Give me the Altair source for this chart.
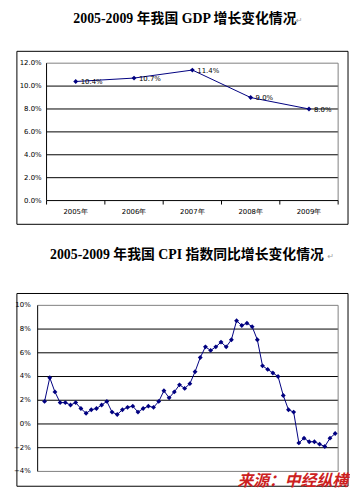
import altair as alt
import pandas as pd

# ---------------- data ----------------
years = ["2005年", "2006年", "2007年", "2008年", "2009年"]
gdp = [10.4, 10.7, 11.4, 9.0, 8.0]
gdp_labels = ["10.4%", "10.7%", "11.4%", "9.0%", "8.0%"]
gdp_ticks = [0, 2, 4, 6, 8, 10, 12]

months = [f"{y}-{m:02d}" for y in range(2005, 2010) for m in range(1, 13)][:57]
cpi = [
    1.9, 3.9, 2.7, 1.8, 1.8, 1.6, 1.8, 1.3, 0.9, 1.2, 1.3, 1.6,
    1.9, 1.0, 0.8, 1.2, 1.4, 1.5, 1.0, 1.3, 1.5, 1.4, 1.9, 2.8,
    2.2, 2.7, 3.3, 3.0, 3.4, 4.4, 5.6, 6.5, 6.2, 6.5, 6.9, 6.5,
    7.1, 8.7, 8.3, 8.5, 8.2, 7.1, 4.9, 4.6, 4.3, 4.0, 2.4, 1.2,
    1.0, -1.6, -1.2, -1.5, -1.5, -1.7, -1.9, -1.2, -0.8,
]
cpi_ticks = [-4, -2, 0, 2, 4, 6, 8, 10]

title1 = "2005-2009 年我国 GDP 增长变化情况"
title2 = "2005-2009 年我国 CPI 指数同比增长变化情况"
para_mark = "↵"
source = "来源：中经纵横"

# ---------------- style ----------------
NAVY = "#000080"
GRAY = "#808080"
LBL_FONT = "DejaVu Sans"
TITLE_FONT = "Liberation Serif, Noto Sans CJK SC"

W, H = 346, 484

# top panel geometry (view coords)
T_L, T_R, T_TOP, T_BOT = 39, 334, 53, 192
# bottom panel geometry
B_L, B_R, B_TOP, B_BOT = 30, 334, 298, 466

gx = alt.Scale(domain=years, range=[T_L, T_R], padding=0.5)
gy = alt.Scale(domain=[0, 12], range=[T_BOT, T_TOP])
cx = alt.Scale(domain=months, range=[37, 331], padding=0)
cy = alt.Scale(domain=[-4, 10], range=[B_BOT, B_TOP])

gdp_df = pd.DataFrame({"year": years, "gdp": gdp, "label": gdp_labels})
gtick_df = pd.DataFrame({"v": gdp_ticks})
cpi_df = pd.DataFrame({"month": months, "cpi": cpi})
ctick_df = pd.DataFrame({"v": cpi_ticks})
bound_df = pd.DataFrame({"b": list(range(len(years) + 1))})

layers = []

# ---- titles ----
for txt, cx_, cy_, end_x in [(title1, 179, 8, 291), (title2, 181, 247, 323)]:
    layers.append(
        alt.Chart(pd.DataFrame({"t": [txt]})).mark_text(
            font=TITLE_FONT, fontSize=14, fontWeight="bold", align="center",
            baseline="middle", color="#000000"
        ).encode(text="t:N", x=alt.value(cx_), y=alt.value(cy_))
    )
    layers.append(
        alt.Chart(pd.DataFrame({"t": [para_mark]})).mark_text(
            font="DejaVu Sans", fontSize=8, align="left", baseline="middle", color="#a0a0a0"
        ).encode(text="t:N", x=alt.value(end_x), y=alt.value(cy_ + 2))
    )

# ---- outer frames ----
for y0, y1 in [(41, 216), (286, 481)]:
    layers.append(
        alt.Chart(pd.DataFrame({"a": [0]})).mark_rect(
            fill="transparent", stroke="#000000", strokeWidth=1
        ).encode(x=alt.value(9), x2=alt.value(344), y=alt.value(y0), y2=alt.value(y1))
    )

# ================= top panel (GDP) =================
layers.append(
    alt.Chart(gtick_df).transform_filter("datum.v > 0 && datum.v < 12").mark_rule(
        color="#000000", strokeWidth=1
    ).encode(y=alt.Y("v:Q", scale=gy, axis=None), x=alt.value(T_L), x2=alt.value(T_R))
)
layers.append(
    alt.Chart(gtick_df).transform_filter("datum.v == 12").mark_rule(
        color=GRAY, strokeWidth=1
    ).encode(y=alt.Y("v:Q", scale=gy, axis=None), x=alt.value(T_L), x2=alt.value(T_R))
)
layers.append(
    alt.Chart(pd.DataFrame({"a": [0]})).mark_rule(color=GRAY, strokeWidth=1).encode(
        x=alt.value(T_R), y=alt.value(T_TOP), y2=alt.value(T_BOT)
    )
)
layers.append(
    alt.Chart(pd.DataFrame({"a": [0]})).mark_rule(color="#000000", strokeWidth=1).encode(
        x=alt.value(T_L), y=alt.value(T_TOP), y2=alt.value(T_BOT)
    )
)
layers.append(
    alt.Chart(gtick_df).transform_filter("datum.v == 0").mark_rule(
        color="#000000", strokeWidth=1
    ).encode(y=alt.Y("v:Q", scale=gy, axis=None), x=alt.value(T_L), x2=alt.value(T_R))
)
layers.append(
    alt.Chart(bound_df).mark_rule(color="#000000", strokeWidth=1).encode(
        x=alt.X("b:Q", scale=alt.Scale(domain=[0, len(years)], range=[T_L, T_R]), axis=None),
        y=alt.value(T_BOT), y2=alt.value(T_BOT + 4)
    )
)
layers.append(
    alt.Chart(gtick_df).transform_calculate(
        lab="format(datum.v, '.1f') + '%'"
    ).mark_text(font=LBL_FONT, fontSize=7, align="right", baseline="middle", color="#000000").encode(
        y=alt.Y("v:Q", scale=gy, axis=None), x=alt.value(T_L - 5), text="lab:N"
    )
)
layers.append(
    alt.Chart(gdp_df).mark_text(font=LBL_FONT, fontSize=7, align="center", baseline="middle",
                                color="#000000").encode(
        x=alt.X("year:N", scale=gx, axis=None, sort=years), y=alt.value(T_BOT + 12), text="year:N"
    )
)
layers.append(
    alt.Chart(gdp_df).mark_line(color=NAVY, strokeWidth=1).encode(
        x=alt.X("year:N", scale=gx, axis=None, sort=years), y=alt.Y("gdp:Q", scale=gy, axis=None)
    )
)
layers.append(
    alt.Chart(gdp_df).mark_point(shape="diamond", filled=True, size=24, color=NAVY, opacity=1).encode(
        x=alt.X("year:N", scale=gx, axis=None, sort=years), y=alt.Y("gdp:Q", scale=gy, axis=None)
    )
)
layers.append(
    alt.Chart(gdp_df).mark_text(font=LBL_FONT, fontSize=7, align="left", baseline="middle",
                                dx=5, dy=1, color="#000000").encode(
        x=alt.X("year:N", scale=gx, axis=None, sort=years), y=alt.Y("gdp:Q", scale=gy, axis=None),
        text="label:N"
    )
)

# ================= bottom panel (CPI) =================
layers.append(
    alt.Chart(ctick_df).transform_filter("datum.v > -4 && datum.v < 10").mark_rule(
        color="#000000", strokeWidth=1
    ).encode(y=alt.Y("v:Q", scale=cy, axis=None), x=alt.value(B_L), x2=alt.value(B_R))
)
layers.append(
    alt.Chart(ctick_df).transform_filter("datum.v == -4 || datum.v == 10").mark_rule(
        color=GRAY, strokeWidth=1
    ).encode(y=alt.Y("v:Q", scale=cy, axis=None), x=alt.value(B_L), x2=alt.value(B_R))
)
layers.append(
    alt.Chart(pd.DataFrame({"a": [0]})).mark_rule(color=GRAY, strokeWidth=1).encode(
        x=alt.value(B_R), y=alt.value(B_TOP), y2=alt.value(B_BOT)
    )
)
layers.append(
    alt.Chart(pd.DataFrame({"a": [0]})).mark_rule(color="#000000", strokeWidth=1).encode(
        x=alt.value(B_L), y=alt.value(B_TOP), y2=alt.value(B_BOT)
    )
)
layers.append(
    alt.Chart(ctick_df).transform_calculate(
        lab="format(datum.v, 'd') + '%'"
    ).mark_text(font=LBL_FONT, fontSize=7, align="right", baseline="middle", color="#000000").encode(
        y=alt.Y("v:Q", scale=cy, axis=None), x=alt.value(B_L - 7), text="lab:N"
    )
)
layers.append(
    alt.Chart(cpi_df).mark_line(color=NAVY, strokeWidth=1).encode(
        x=alt.X("month:O", scale=cx, axis=None, sort=months), y=alt.Y("cpi:Q", scale=cy, axis=None)
    )
)
layers.append(
    alt.Chart(cpi_df).mark_point(shape="diamond", filled=True, size=24, color=NAVY, opacity=1).encode(
        x=alt.X("month:O", scale=cx, axis=None, sort=months), y=alt.Y("cpi:Q", scale=cy, axis=None)
    )
)

# ---- source ----
layers.append(
    alt.Chart(pd.DataFrame({"t": [source]})).mark_text(
        font="Noto Sans CJK SC", fontSize=16, fontWeight="bold", fontStyle="italic",
        align="right", baseline="alphabetic", color="#cc2020"
    ).encode(text="t:N", x=alt.value(344), y=alt.value(481))
)

chart = alt.layer(*layers).resolve_scale(x="independent", y="independent").properties(
    width=W, height=H, padding=0, autosize=alt.AutoSizeParams(type="none")
).configure_view(stroke=None)

chart.save("out.html", embed_options={"renderer": "svg", "actions": False})
